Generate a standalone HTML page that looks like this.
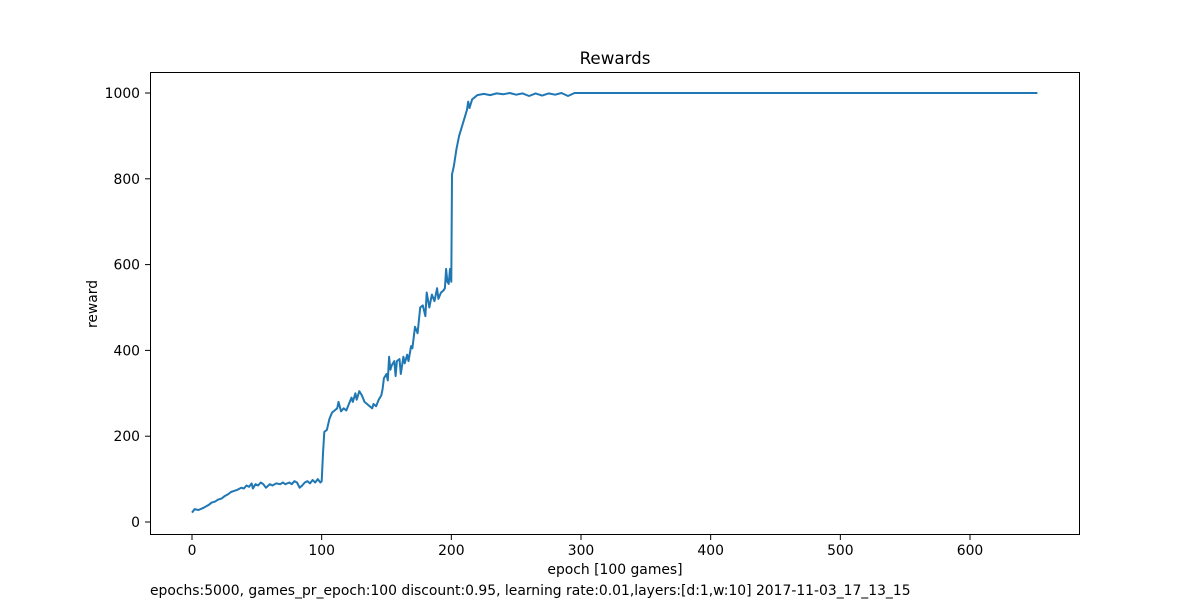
<!DOCTYPE html>
<html><head><meta charset="utf-8"><style>
body{margin:0;background:#fff;}
svg{display:block;font-family:"DejaVu Sans","Liberation Sans",sans-serif;}
</style></head><body>
<svg id="chart" width="1200" height="600">
<rect width="1200" height="600" fill="#fff"/>
<text x="615" y="64" font-size="16.7" text-anchor="middle">Rewards</text>
<g id="ticks"></g>
<path id="line" fill="none" stroke="#1f77b4" stroke-width="2" stroke-linejoin="round"/>
<rect x="150.5" y="72.5" width="929" height="462" fill="none" stroke="#000" stroke-width="1"/>
<text x="615" y="574" font-size="13.9" text-anchor="middle">epoch [100 games]</text>
<text transform="translate(97,304) rotate(-90)" font-size="13.9" text-anchor="middle">reward</text>
<text x="150" y="595" font-size="13.9">epochs:5000, games_pr_epoch:100 discount:0.95, learning rate:0.01,layers:[d:1,w:10] 2017-11-03_17_13_15</text>
</svg>
<script>
const xTicks=[0,100,200,300,400,500,600];
const yTicks=[0,200,400,600,800,1000];
const epochs=[0,2,5,8,10,13,15,18,20,23,25,28,30,33,35,38,40,42,44,46,47,49,51,53,55,57,60,62,65,68,70,72,75,77,79,81,83,85,87,89,91,93,95,97,99,100,101,102,104,106,108,110,112,113,115,117,119,121,123,124,126,127,129,131,133,135,137,139,140,142,144,146,147,148,150,151,152,153,154,156,157,158,160,161,163,164,166,167,169,170,172,174,176,178,180,181,183,185,187,189,190,192,194,195,196,197,198,199,200,200.5,202,204,206,208,210,212,213,214,216,218,220,225,230,235,240,245,250,255,260,265,270,275,280,285,290,295,300,652];
const rewards=[22,30,28,32,35,40,45,48,52,55,60,65,70,73,75,80,78,85,82,90,78,88,85,92,88,80,88,85,90,88,92,88,92,88,95,92,80,85,92,95,90,98,92,100,92,95,160,210,215,240,255,260,265,280,258,265,260,275,290,280,300,285,305,295,280,275,270,265,275,270,285,295,310,335,345,330,385,355,365,375,340,375,380,345,385,370,390,375,410,405,455,440,500,505,480,535,500,530,515,545,520,535,540,545,590,560,555,590,560,810,830,870,900,920,940,960,980,965,985,990,995,998,995,999,997,1000,996,999,993,999,994,999,996,1000,993,1000,1000,1000];
const X=e=>192+e*778/600;
const Y=v=>522-v*0.429;
const ns="http://www.w3.org/2000/svg";
const g=document.getElementById('ticks');
xTicks.forEach(t=>{
  const l=document.createElementNS(ns,'line');
  l.setAttribute('x1',X(t));l.setAttribute('x2',X(t));l.setAttribute('y1',535);l.setAttribute('y2',540);l.setAttribute('stroke','#000');
  
  
  g.appendChild(l);
  const tx=document.createElementNS(ns,'text');
  tx.setAttribute('x',X(t));tx.setAttribute('y',555);tx.setAttribute('font-size','13.9');tx.setAttribute('text-anchor','middle');
  tx.textContent=t;
  
  
  g.appendChild(tx);
});
yTicks.forEach(t=>{
  const l=document.createElementNS(ns,'line');
  l.setAttribute('x1',145);l.setAttribute('x2',150);l.setAttribute('y1',Y(t));l.setAttribute('y2',Y(t));l.setAttribute('stroke','#000');
  
  
  g.appendChild(l);
  const tx=document.createElementNS(ns,'text');
  tx.setAttribute('x',140);tx.setAttribute('y',Y(t)+5);tx.setAttribute('font-size','13.9');tx.setAttribute('text-anchor','end');
  tx.textContent=t;
  
  
  g.appendChild(tx);
});
document.getElementById('line').setAttribute('d',epochs.map((e,i)=>(i?'L':'M')+X(e).toFixed(1)+','+Y(rewards[i]).toFixed(1)).join(''));
</script>
</body></html>
